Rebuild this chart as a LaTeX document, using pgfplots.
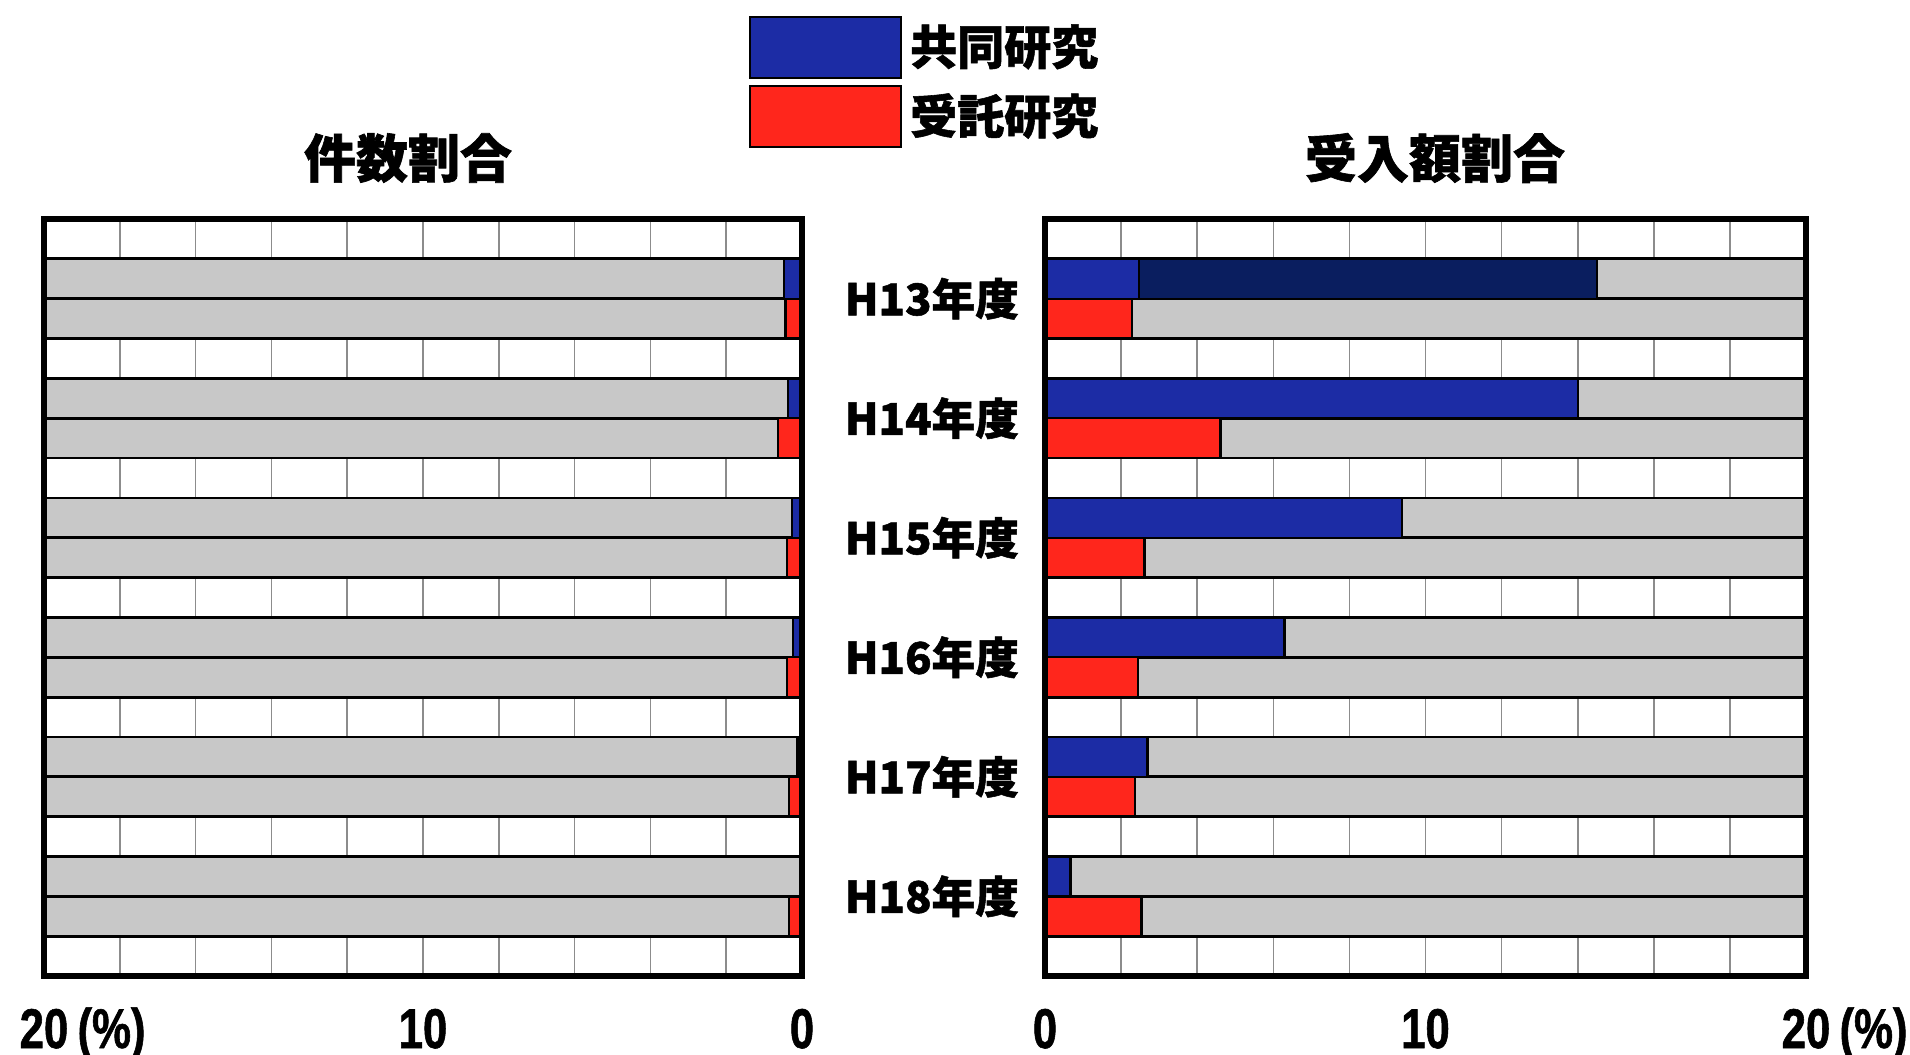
\documentclass[border=0pt]{standalone}
\usepackage{fontspec}
\usepackage{pgfplots}
\pgfplotsset{compat=1.18}
\setmainfont{Noto Sans CJK JP}[BoldFeatures={FakeBold=1.2}]
\newfontfamily\narrowfont[FakeStretch=0.78, BoldFeatures={FakeBold=1}]{Liberation Sans}

\definecolor{kyodo}{RGB}{28,44,165}
\definecolor{jutaku}{RGB}{255,38,28}
\definecolor{navyblk}{RGB}{10,30,95}
\definecolor{bargray}{RGB}{200,200,200}
\definecolor{gridgray}{RGB}{140,140,140}

\begin{document}
\begin{tikzpicture}
\useasboundingbox (0,0) rectangle (477.5pt,263.5pt);
\pgfplotsset{
  panel/.style={
    scale only axis, height=189.25pt,
    xmin=0, xmax=20, ymin=-0.5, ymax=18.5, y dir=reverse,
    xtick={0,2,...,20},
    xticklabels={0,,,,,10,,,,,{20\rlap{\,(\%)}}},
    xmajorgrids, grid style={gridgray, line width=0.4pt},
    major tick length=0pt,
    axis line style={draw=none},
    clip=false,
    /pgf/number format/assume math mode=true,
    xticklabel style={font=\narrowfont\bfseries\fontsize{14}{15}\selectfont,
      anchor=base, yshift=-18pt},
  },
  hbar/.style={xbar, bar width=1, bar shift=0pt, draw=black, line width=0.6pt,
    legend image code/.code={\draw[##1, draw=black, line width=0.6pt]
      (0pt,-7.6pt) rectangle (37.75pt,7.6pt);}},
  bg/.style={hbar, fill=bargray, line width=0.7pt, forget plot},
}

% 件数割合 (left, reversed)
\begin{axis}[panel, at={(11pt,19.5pt)}, anchor=south west, width=189.5pt,
  x dir=reverse, ytick=\empty]
\addplot[bg] coordinates {(20,1) (20,2) (20,4) (20,5) (20,7) (20,8)
  (20,10) (20,11) (20,13) (20,14) (20,16) (20,17)};
% 共同研究
\addplot[hbar, fill=kyodo] coordinates {
  (0.47,1) (0.37,4) (0.26,7) (0.24,10) (0.12,13) (0.0,16)};
% 受託研究
\addplot[hbar, fill=jutaku] coordinates {
  (0.43,2) (0.63,5) (0.39,8) (0.39,11) (0.35,14) (0.35,17)};
\draw[line width=1.3pt] (rel axis cs:0,0) rectangle (rel axis cs:1,1);
\end{axis}

% 受入額割合 (right)
\begin{axis}[panel, at={(261.25pt,19.5pt)}, anchor=south west, width=190.25pt,
  ytick={1.5,4.5,7.5,10.5,13.5,16.5},
  yticklabels={H13年度,H14年度,H15年度,H16年度,H17年度,H18年度},
  yticklabel style={font=\bfseries\fontsize{10.9}{12}\selectfont, xshift=-3pt},
  legend style={at={(-0.3903,1.2695)}, anchor=north west, draw=none, fill=none,
    inner sep=0pt, row sep=1.5pt, legend cell align=left,
    font=\bfseries\fontsize{11.75}{13}\selectfont,
    /tikz/every even column/.append style={column sep=4pt}}]
\addplot[bg] coordinates {(20,1) (20,2) (20,4) (20,5) (20,7) (20,8)
  (20,10) (20,11) (20,13) (20,14) (20,16) (20,17)};
\addplot[hbar, fill=navyblk, forget plot] coordinates {(14.5,1)};
% 共同研究
\addplot[hbar, fill=kyodo] coordinates {
  (2.47,1) (14.0,4) (9.38,7) (6.29,10) (2.69,13) (0.67,16)};
\addlegendentry{共同研究}
% 受託研究
\addplot[hbar, fill=jutaku] coordinates {
  (2.28,2) (4.61,5) (2.62,8) (2.44,11) (2.36,14) (2.54,17)};
\addlegendentry{受託研究}
\draw[line width=1.3pt] (rel axis cs:0,0) rectangle (rel axis cs:1,1);
\end{axis}

\node[font=\bfseries\fontsize{13}{15}\selectfont] at (102pt,224pt) {件数割合};
\node[font=\bfseries\fontsize{13}{15}\selectfont] at (358.75pt,224pt) {受入額割合};
\end{tikzpicture}
\end{document}
